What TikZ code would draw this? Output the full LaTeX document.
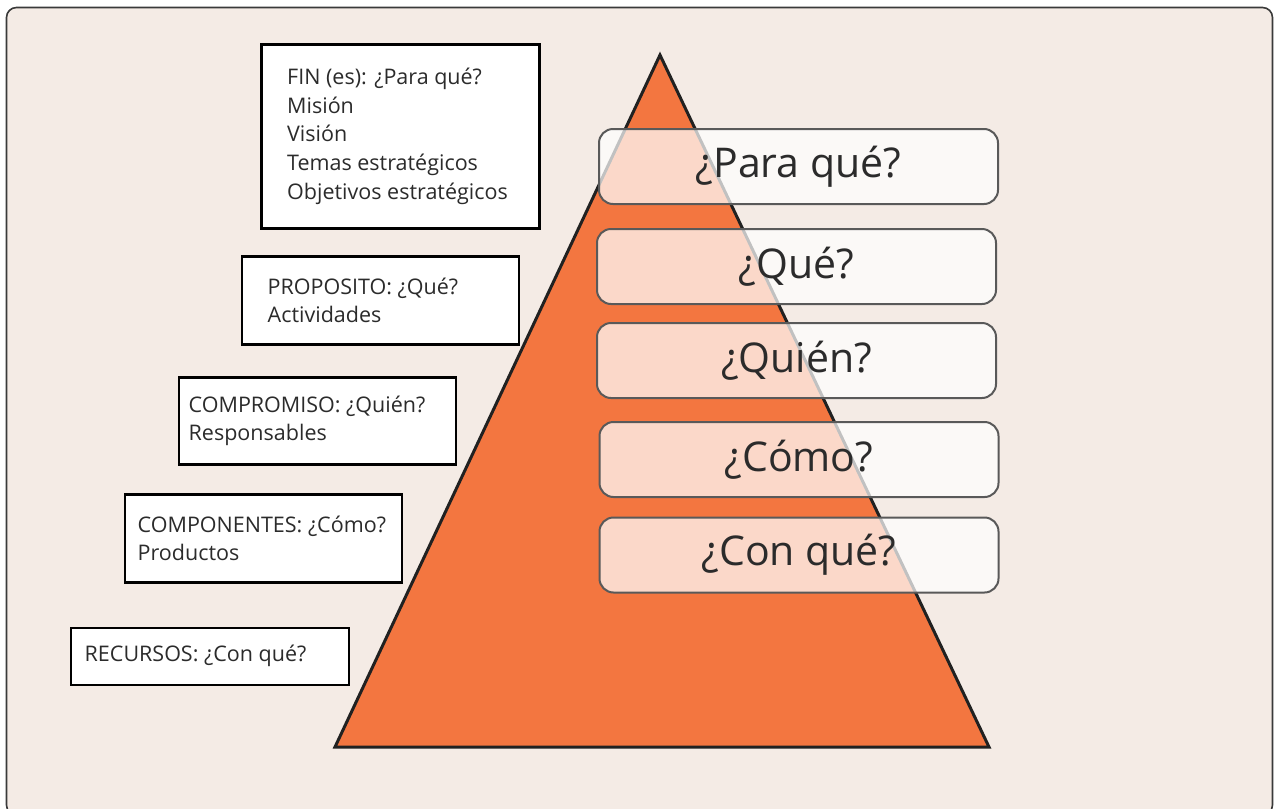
\documentclass[tikz,border=0pt]{standalone}
\usepackage{fontspec}
\setmainfont{Open Sans}
\definecolor{bgbeige}{HTML}{F4EBE5}
\definecolor{pyrorange}{HTML}{F37640}
\definecolor{txtdark}{HTML}{2B2B2B}
\definecolor{framegray}{HTML}{3A3A3A}
\definecolor{rboxgray}{HTML}{595959}
\tikzset{
  lbox/.style={draw=black, line width=2.5pt, fill=white, anchor=north west, inner sep=0pt},
  ltext/.style={anchor=west, align=left, inner sep=0pt, text=txtdark,
    font=\fontsize{21.5}{28.7}\selectfont},
  rbox/.style={draw=rboxgray, line width=2pt, fill=white, fill opacity=0.72, draw opacity=1,
    rounded corners=14pt, anchor=north west, inner sep=0pt, minimum width=399pt, minimum height=75pt},
  rtext/.style={text=txtdark, text opacity=1, inner sep=0pt, font=\fontsize{41}{48}\selectfont},
}
\begin{document}
\begin{tikzpicture}[x=1pt,y=-1pt]
\useasboundingbox (0,0) rectangle (1278,809);
\begin{scope}
\clip (0,0) rectangle (1278,809);
\draw[framegray, line width=1.6pt, fill=bgbeige, rounded corners=10pt] (6.5,7.5) rectangle (1272.5,815);
\end{scope}
% pyramid
\coordinate (apex) at (660,55);
\coordinate (bl) at (335,747);
\coordinate (br) at (989,747);
\draw[fill=pyrorange, draw=black!87, line width=3pt, line join=miter] (apex) -- (br) -- (bl) -- cycle;
% left boxes
\node[lbox, minimum width=278pt, minimum height=184pt] (fin) at (260,43) {};
\node[ltext] (fint) at ([xshift=27pt]fin.west) {FIN (es): ¿Para qué?\\Misión\\Visión\\Temas estratégicos\\Objetivos estratégicos};
\node[lbox, minimum width=277pt, minimum height=88pt] (prop) at (240.5,255) {};
\node[ltext] (propt) at ([xshift=27pt]prop.west) {PROPOSITO: ¿Qué?\\Actividades};
\node[lbox, minimum width=277pt, minimum height=87pt] (comp) at (177.5,376) {};
\node[ltext] (compt) at ([xshift=11pt]comp.west) {COMPROMISO: ¿Quién?\\Responsables};
\node[lbox, minimum width=277pt, minimum height=88pt] (compo) at (123.5,493) {};
\node[ltext] (compot) at ([xshift=14pt]compo.west) {COMPONENTES: ¿Cómo?\\Productos};
\node[lbox, minimum width=278pt, minimum height=57pt] (rec) at (69.5,626.5) {};
\node[ltext] (rect) at ([xshift=15pt]rec.west) {RECURSOS: ¿Con qué?};
% right boxes
\node[rbox] (para) at (598,128) {};
\node[rtext] at (para.center) {¿Para qué?};
\node[rbox] (que) at (596,228) {};
\node[rtext] at (que.center) {¿Qué?};
\node[rbox] (quien) at (596,322) {};
\node[rtext] at (quien.center) {¿Quién?};
\node[rbox] (como) at (598.5,421) {};
\node[rtext] at (como.center) {¿Cómo?};
\node[rbox] (con) at (598.5,516.5) {};
\node[rtext] at (con.center) {¿Con qué?};
\end{tikzpicture}
\end{document}
